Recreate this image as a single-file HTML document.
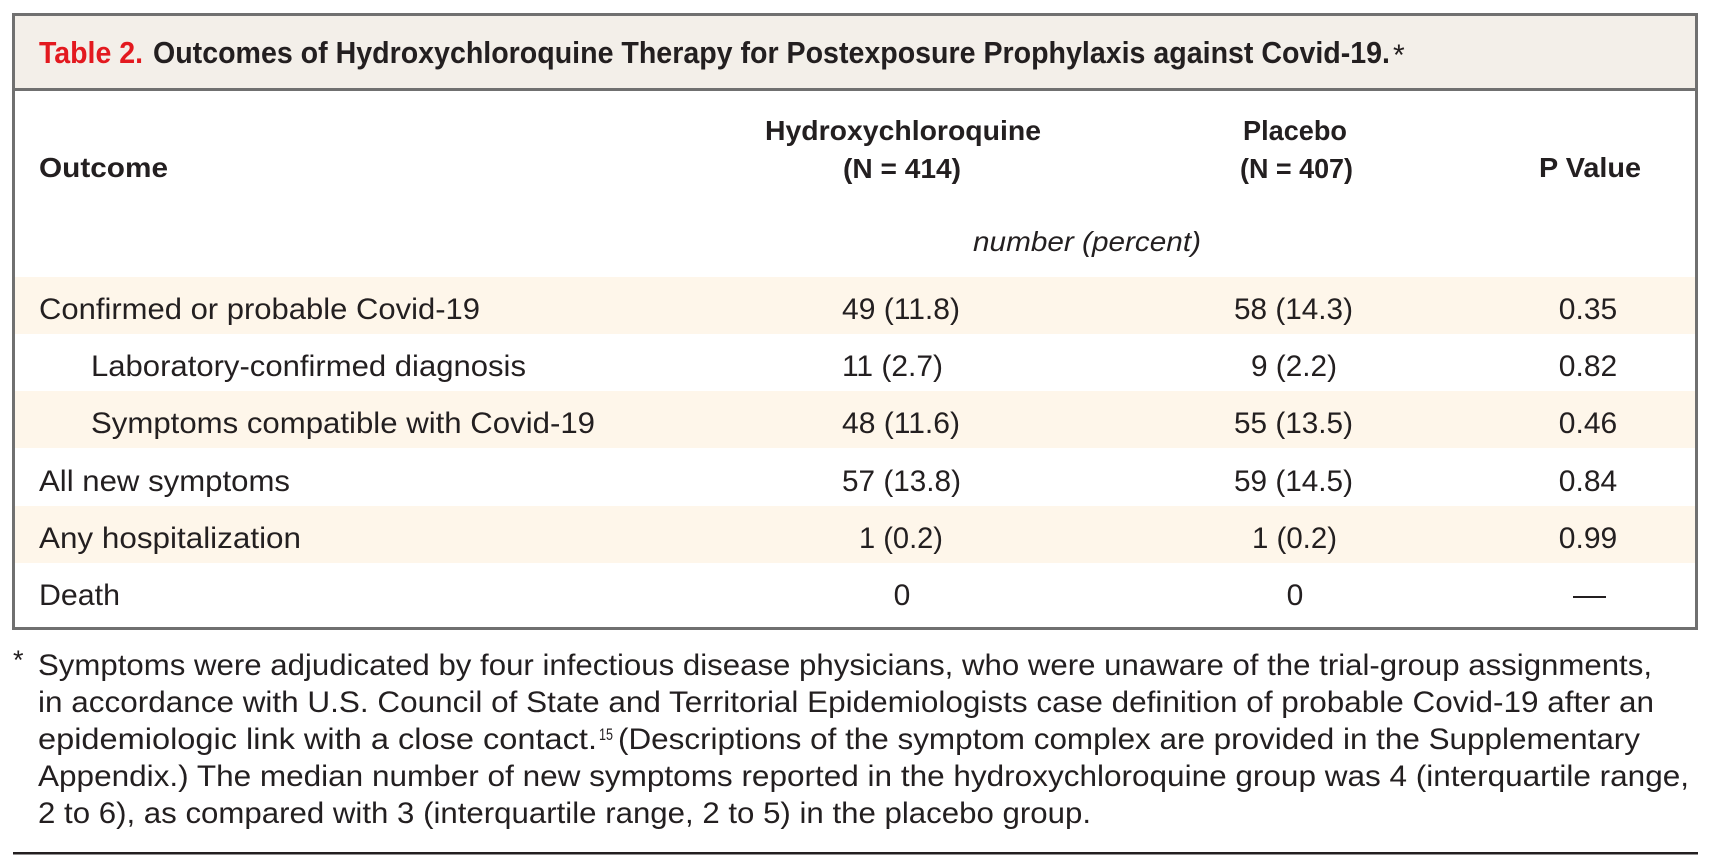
<!DOCTYPE html>
<html>
<head>
<meta charset="utf-8">
<style>
  html,body{margin:0;padding:0;background:#ffffff;}
  svg{display:block;}
  text{font-family:"Liberation Sans", Arial, sans-serif; fill:#231f20;}
  .b{font-weight:bold;}
  .it{font-style:italic;}
</style>
</head>
<body>
<svg width="1711" height="867" viewBox="0 0 1711 867" xmlns="http://www.w3.org/2000/svg">
  <rect x="0" y="0" width="1711" height="867" fill="#ffffff"/>

  <!-- title band -->
  <rect x="14" y="15" width="1682" height="74" fill="#f3efe9"/>
  <!-- shaded rows -->
  <rect x="14" y="277" width="1682" height="57" fill="#fef6ea"/>
  <rect x="14" y="391" width="1682" height="57" fill="#fef6ea"/>
  <rect x="14" y="506" width="1682" height="57" fill="#fef6ea"/>

  <!-- borders -->
  <rect x="12" y="13" width="1686" height="3" fill="#707070"/>
  <rect x="12" y="88" width="1686" height="3" fill="#707070"/>
  <rect x="12" y="627" width="1686" height="3" fill="#707070"/>
  <rect x="12" y="13" width="3" height="617" fill="#707070"/>
  <rect x="1695" y="13" width="3" height="617" fill="#707070"/>

  <!-- title -->
  <text x="39" y="63" class="b" font-size="31" style="fill:#e3191f" textLength="104" lengthAdjust="spacingAndGlyphs">Table 2.</text>
  <text x="153" y="63" class="b" font-size="31" textLength="1237" lengthAdjust="spacingAndGlyphs">Outcomes of Hydroxychloroquine Therapy for Postexposure Prophylaxis against Covid-19.</text>
  <text x="1393" y="65" font-size="30">*</text>

  <!-- header -->
  <text x="39" y="177" class="b" font-size="28" textLength="129" lengthAdjust="spacingAndGlyphs">Outcome</text>
  <text x="765" y="140" class="b" font-size="28" textLength="276" lengthAdjust="spacingAndGlyphs">Hydroxychloroquine</text>
  <text x="843" y="178" class="b" font-size="28" textLength="118" lengthAdjust="spacingAndGlyphs">(N = 414)</text>
  <text x="1243" y="140" class="b" font-size="28" textLength="104" lengthAdjust="spacingAndGlyphs">Placebo</text>
  <text x="1240" y="178" class="b" font-size="28" textLength="113" lengthAdjust="spacingAndGlyphs">(N = 407)</text>
  <text x="1539" y="177" class="b" font-size="28" textLength="102" lengthAdjust="spacingAndGlyphs">P Value</text>
  <text x="973" y="251" class="it" font-size="28" textLength="228" lengthAdjust="spacingAndGlyphs">number (percent)</text>

  <!-- row labels -->
  <text x="39" y="319" font-size="30" textLength="441" lengthAdjust="spacingAndGlyphs">Confirmed or probable Covid-19</text>
  <text x="91" y="376" font-size="30" textLength="435" lengthAdjust="spacingAndGlyphs">Laboratory-confirmed diagnosis</text>
  <text x="91" y="433" font-size="30" textLength="504" lengthAdjust="spacingAndGlyphs">Symptoms compatible with Covid-19</text>
  <text x="39" y="491" font-size="30" textLength="251" lengthAdjust="spacingAndGlyphs">All new symptoms</text>
  <text x="39" y="548" font-size="30" textLength="262" lengthAdjust="spacingAndGlyphs">Any hospitalization</text>
  <text x="39" y="605" font-size="30" textLength="81" lengthAdjust="spacingAndGlyphs">Death</text>

  <!-- hydroxychloroquine column -->
  <text x="842" y="319" font-size="30" textLength="118" lengthAdjust="spacingAndGlyphs">49 (11.8)</text>
  <text x="842" y="376" font-size="30" textLength="101" lengthAdjust="spacingAndGlyphs">11 (2.7)</text>
  <text x="842" y="433" font-size="30" textLength="118" lengthAdjust="spacingAndGlyphs">48 (11.6)</text>
  <text x="842" y="491" font-size="30" textLength="119" lengthAdjust="spacingAndGlyphs">57 (13.8)</text>
  <text x="859" y="548" font-size="30" textLength="84" lengthAdjust="spacingAndGlyphs">1 (0.2)</text>
  <text x="902" y="605" font-size="30" text-anchor="middle">0</text>

  <!-- placebo column -->
  <text x="1234" y="319" font-size="30" textLength="119" lengthAdjust="spacingAndGlyphs">58 (14.3)</text>
  <text x="1251" y="376" font-size="30" textLength="86" lengthAdjust="spacingAndGlyphs">9 (2.2)</text>
  <text x="1234" y="433" font-size="30" textLength="119" lengthAdjust="spacingAndGlyphs">55 (13.5)</text>
  <text x="1234" y="491" font-size="30" textLength="119" lengthAdjust="spacingAndGlyphs">59 (14.5)</text>
  <text x="1252" y="548" font-size="30" textLength="85" lengthAdjust="spacingAndGlyphs">1 (0.2)</text>
  <text x="1295" y="605" font-size="30" text-anchor="middle">0</text>

  <!-- p values -->
  <text x="1588" y="319" font-size="30" text-anchor="middle">0.35</text>
  <text x="1588" y="376" font-size="30" text-anchor="middle">0.82</text>
  <text x="1588" y="433" font-size="30" text-anchor="middle">0.46</text>
  <text x="1588" y="491" font-size="30" text-anchor="middle">0.84</text>
  <text x="1588" y="548" font-size="30" text-anchor="middle">0.99</text>
  <rect x="1573" y="596" width="33" height="2" fill="#231f20"/>

  <!-- footnote -->
  <text x="13" y="669" font-size="27">*</text>
  <text x="38" y="675" font-size="30" textLength="1614" lengthAdjust="spacingAndGlyphs">Symptoms were adjudicated by four infectious disease physicians, who were unaware of the trial-group assignments,</text>
  <text x="38" y="712" font-size="30" textLength="1616" lengthAdjust="spacingAndGlyphs">in accordance with U.S. Council of State and Territorial Epidemiologists case definition of probable Covid-19 after an</text>
  <text x="38" y="749" font-size="30" textLength="559" lengthAdjust="spacingAndGlyphs">epidemiologic link with a close contact.</text>
  <text x="599" y="740" font-size="17" textLength="14" lengthAdjust="spacingAndGlyphs">15</text>
  <text x="618" y="749" font-size="30" textLength="1022" lengthAdjust="spacingAndGlyphs">(Descriptions of the symptom complex are provided in the Supplementary</text>
  <text x="38" y="786" font-size="30" textLength="1651" lengthAdjust="spacingAndGlyphs">Appendix.) The median number of new symptoms reported in the hydroxychloroquine group was 4 (interquartile range,</text>
  <text x="38" y="823" font-size="30" textLength="1053" lengthAdjust="spacingAndGlyphs">2 to 6), as compared with 3 (interquartile range, 2 to 5) in the placebo group.</text>

  <!-- bottom rule -->
  <rect x="13" y="852" width="1685" height="2.5" fill="#231f20"/>
</svg>
</body>
</html>
